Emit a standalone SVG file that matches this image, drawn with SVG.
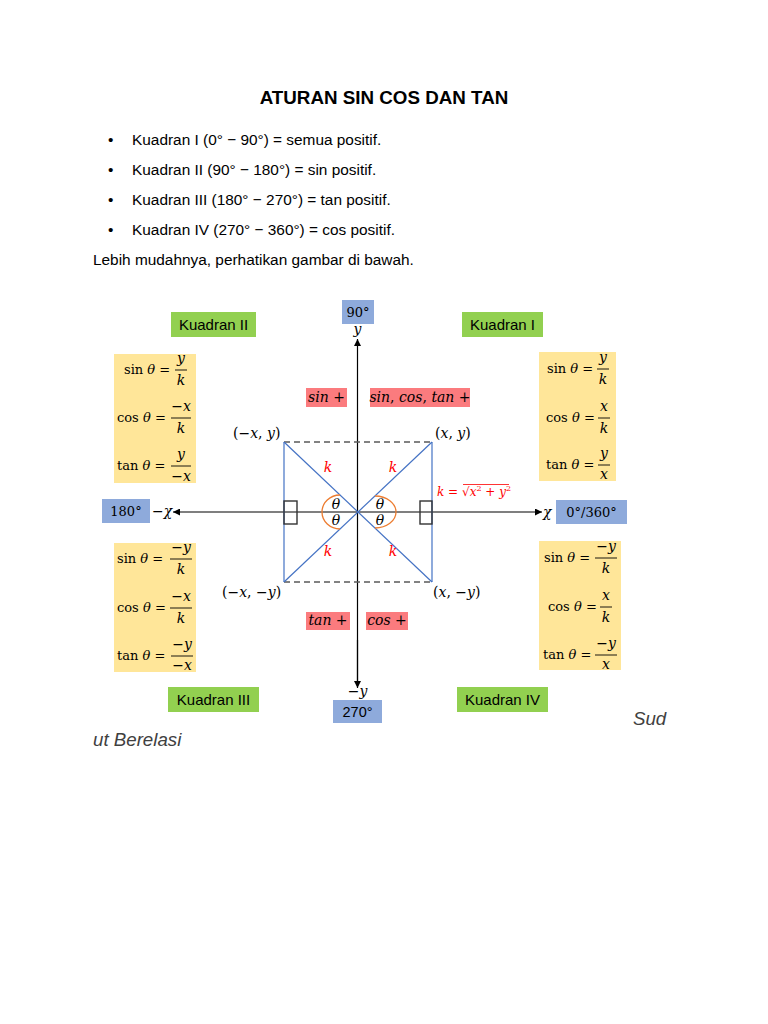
<svg xmlns="http://www.w3.org/2000/svg" width="768" height="1024" viewBox="0 0 768 1024">
<style>
.s{font-family:"Liberation Sans",Arial,sans-serif;fill:#000}
.m{font-family:"DejaVu Serif","Liberation Serif",serif;font-size:13px;fill:#000}
.f{font-family:"DejaVu Serif","Liberation Serif",serif;font-size:14px;fill:#000;text-anchor:middle}
.i{font-style:italic}
.fl{stroke:#000;stroke-width:0.9}
.g{fill:#92d050}
.b{fill:#8eaadb}
.y{fill:#ffe699}
.r{fill:#fb7b7e}
.red{fill:#ff0000}
.ax{stroke:#000;stroke-width:1.2;fill:none}
.bl{stroke:#4472c4;stroke-width:1.2;fill:none}
.da{stroke:#595959;stroke-width:1.5;stroke-dasharray:6 4;fill:none}
.or{stroke:#ed7d31;stroke-width:1.3;fill:none}
.sq{stroke:#333;stroke-width:1.4;fill:none}
.kl{font-family:"Liberation Sans",Arial,sans-serif;font-size:15px;fill:#000;text-anchor:middle}
.gr{font-family:"Liberation Sans",Arial,sans-serif;font-size:18.7px;font-style:italic;fill:#404040}
</style>
<defs>
<marker id="ah" viewBox="0 0 10 10" refX="10" refY="5" markerWidth="7" markerHeight="7" markerUnits="userSpaceOnUse" orient="auto-start-reverse">
<path d="M0,0 L10,5 L0,10 z" fill="#000"/>
</marker>
</defs>
<rect width="768" height="1024" fill="#fff"/>

<g id="title"><text class="s" x="384" y="104" font-size="18.8" font-weight="bold" text-anchor="middle">ATURAN SIN COS DAN TAN</text></g>
<g id="bullets" class="s" font-size="15.4">
<text x="108" y="145">•</text><text x="132" y="145">Kuadran I (0° − 90°) = semua positif.</text>
<text x="108" y="175">•</text><text x="132" y="175">Kuadran II (90° − 180°) = sin positif.</text>
<text x="108" y="205">•</text><text x="132" y="205">Kuadran III (180° − 270°) = tan positif.</text>
<text x="108" y="235">•</text><text x="132" y="235">Kuadran IV (270° − 360°) = cos positif.</text>
</g>
<g id="intro"><text class="s" x="93" y="265" font-size="15.4">Lebih mudahnya, perhatikan gambar di bawah.</text></g>

<g id="connectors">
<line class="ax" x1="357.5" y1="686" x2="357.5" y2="339" marker-end="url(#ah)"/>
<line class="ax" x1="357.5" y1="640" x2="357.5" y2="688" marker-end="url(#ah)"/>
<line class="ax" x1="250" y1="512" x2="173" y2="512" marker-end="url(#ah)"/>
<line class="ax" x1="250" y1="512" x2="542" y2="512" marker-end="url(#ah)"/>
<line class="da" x1="284" y1="442" x2="432" y2="442"/>
<line class="da" x1="284" y1="582" x2="432" y2="582"/>
<line class="bl" x1="284" y1="442" x2="284" y2="582"/>
<line class="bl" x1="432" y1="442" x2="432" y2="582"/>
<line class="bl" x1="284" y1="442" x2="432" y2="582"/>
<line class="bl" x1="432" y1="442" x2="284" y2="582"/>
<rect class="sq" x="284" y="501" width="13" height="23"/>
<rect class="sq" x="420" y="501" width="12" height="23"/>
<path class="or" d="M340,495 A18,17 0 0 0 340,529"/>
<path class="or" d="M375,496 A21,16 0 0 1 375,528"/>
</g>

<g id="theta">
<text class="f i" x="336" y="509">θ</text>
<text class="f i" x="336" y="525">θ</text>
<text class="f i" x="380" y="509">θ</text>
<text class="f i" x="380" y="525">θ</text>
</g>
<g id="k-labels">
<text class="f i red" x="328" y="472">k</text>
<text class="f i red" x="393" y="472">k</text>
<text class="f i red" x="328" y="556">k</text>
<text class="f i red" x="393" y="556">k</text>
</g>
<g id="k-formula">
<text class="m red" x="437" y="496" style="font-size:12px"><tspan class="i">k</tspan> = √<tspan class="i">x</tspan><tspan dy="-5" font-size="8">2</tspan><tspan dy="5"> + </tspan><tspan class="i">y</tspan><tspan dy="-5" font-size="8">2</tspan></text>
<line x1="463" y1="484.5" x2="509" y2="484.5" stroke="#ff0000" stroke-width="0.8"/>
</g>

<g id="coords">
<text class="m" x="233" y="438" style="font-size:14px">(−<tspan class="i">x</tspan>, <tspan class="i">y</tspan>)</text>
<text class="m" x="435" y="438" style="font-size:14px">(<tspan class="i">x</tspan>, <tspan class="i">y</tspan>)</text>
<text class="m" x="222" y="597" style="font-size:14px">(−<tspan class="i">x</tspan>, −<tspan class="i">y</tspan>)</text>
<text class="m" x="433" y="597" style="font-size:14px">(<tspan class="i">x</tspan>, −<tspan class="i">y</tspan>)</text>
</g>

<g id="sign-q2"><rect class="r" x="306" y="388" width="41" height="19"/><text class="f" x="326.5" y="402"><tspan class="i">sin</tspan> +</text></g>
<g id="sign-q1"><rect class="r" x="370" y="388" width="100" height="19"/><text class="f" x="420" y="402"><tspan class="i">sin</tspan>, <tspan class="i">cos</tspan>, <tspan class="i">tan</tspan> +</text></g>
<g id="sign-q3"><rect class="r" x="306" y="612" width="44" height="18"/><text class="f" x="328" y="625"><tspan class="i">tan</tspan> +</text></g>
<g id="sign-q4"><rect class="r" x="366" y="612" width="42" height="18"/><text class="f" x="387" y="625"><tspan class="i">cos</tspan> +</text></g>

<g id="deg-90"><rect class="b" x="342" y="300" width="32" height="24"/><text class="f" x="358" y="317" style="font-size:13px">90°</text><text class="f i" x="357.5" y="334">y</text></g>
<g id="deg-180"><rect class="b" x="102" y="499" width="48" height="24"/><text class="f" x="126" y="516" style="font-size:13px">180°</text><text class="m" x="152" y="516" style="font-size:14px">−<tspan class="i">χ</tspan></text></g>
<g id="deg-0"><rect class="b" x="556" y="500" width="71" height="24"/><text class="f" x="591.5" y="517" style="font-size:13px">0°/360°</text><text class="m i" x="543" y="517" style="font-size:14px">χ</text></g>
<g id="deg-270"><rect class="b" x="333" y="700" width="49" height="23"/><text class="kl" x="357.5" y="717" style="font-size:14.5px">270°</text><text class="f" x="357.5" y="696">−<tspan class="i">y</tspan></text></g>

<g id="kuadran-2"><rect class="g" x="171" y="312" width="85" height="25"/><text class="kl" x="213.5" y="330">Kuadran II</text></g>
<g id="kuadran-1"><rect class="g" x="462" y="312" width="81" height="25"/><text class="kl" x="502.5" y="330">Kuadran I</text></g>
<g id="kuadran-3"><rect class="g" x="168" y="687" width="91" height="25"/><text class="kl" x="213.5" y="705">Kuadran III</text></g>
<g id="kuadran-4"><rect class="g" x="457" y="687" width="91" height="25"/><text class="kl" x="502.5" y="705">Kuadran IV</text></g>

<g id="formula-q2">
<rect class="y" x="114" y="354" width="82" height="129"/>
<text class="m" x="124" y="374">sin <tspan class="i">θ</tspan> =</text>
<text class="f i" x="181" y="363">y</text><line class="fl" x1="175" y1="370" x2="187" y2="370"/><text class="f i" x="181" y="385">k</text>
<text class="m" x="117" y="422">cos <tspan class="i">θ</tspan> =</text>
<text class="f" x="181" y="411">−<tspan class="i">x</tspan></text><line class="fl" x1="171" y1="418" x2="191" y2="418"/><text class="f i" x="181" y="433">k</text>
<text class="m" x="117" y="470">tan <tspan class="i">θ</tspan> =</text>
<text class="f i" x="181" y="459">y</text><line class="fl" x1="171" y1="466" x2="191" y2="466"/><text class="f" x="181" y="481">−<tspan class="i">x</tspan></text>
</g>

<g id="formula-q1">
<rect class="y" x="539" y="352" width="77" height="129"/>
<text class="m" x="547" y="373">sin <tspan class="i">θ</tspan> =</text>
<text class="f i" x="603" y="362">y</text><line class="fl" x1="597" y1="369" x2="609" y2="369"/><text class="f i" x="603" y="384">k</text>
<text class="m" x="546" y="422">cos <tspan class="i">θ</tspan> =</text>
<text class="f i" x="604" y="411">x</text><line class="fl" x1="598" y1="418" x2="610" y2="418"/><text class="f i" x="604" y="433">k</text>
<text class="m" x="546" y="469">tan <tspan class="i">θ</tspan> =</text>
<text class="f i" x="604" y="458">y</text><line class="fl" x1="598" y1="465" x2="610" y2="465"/><text class="f i" x="604" y="479">x</text>
</g>

<g id="formula-q3">
<rect class="y" x="114" y="543" width="82" height="129"/>
<text class="m" x="117" y="563">sin <tspan class="i">θ</tspan> =</text>
<text class="f" x="181" y="552">−<tspan class="i">y</tspan></text><line class="fl" x1="170" y1="559" x2="192" y2="559"/><text class="f i" x="181" y="574">k</text>
<text class="m" x="117" y="612">cos <tspan class="i">θ</tspan> =</text>
<text class="f" x="181" y="601">−<tspan class="i">x</tspan></text><line class="fl" x1="170" y1="608" x2="192" y2="608"/><text class="f i" x="181" y="623">k</text>
<text class="m" x="117" y="660">tan <tspan class="i">θ</tspan> =</text>
<text class="f" x="182" y="649">−<tspan class="i">y</tspan></text><line class="fl" x1="171" y1="656" x2="193" y2="656"/><text class="f" x="182" y="670">−<tspan class="i">x</tspan></text>
</g>

<g id="formula-q4">
<rect class="y" x="539" y="541" width="82" height="129"/>
<text class="m" x="544" y="562">sin <tspan class="i">θ</tspan> =</text>
<text class="f" x="606" y="551">−<tspan class="i">y</tspan></text><line class="fl" x1="595" y1="558" x2="617" y2="558"/><text class="f i" x="606" y="573">k</text>
<text class="m" x="548" y="611">cos <tspan class="i">θ</tspan> =</text>
<text class="f i" x="606" y="600">x</text><line class="fl" x1="600" y1="607" x2="612" y2="607"/><text class="f i" x="606" y="622">k</text>
<text class="m" x="543" y="659">tan <tspan class="i">θ</tspan> =</text>
<text class="f" x="606" y="648">−<tspan class="i">y</tspan></text><line class="fl" x1="595" y1="655" x2="617" y2="655"/><text class="f i" x="606" y="669">x</text>
</g>

<g id="footer">
<text class="gr" x="633" y="725">Sud</text>
<text class="gr" x="93" y="746">ut Berelasi</text>
</g>
</svg>
